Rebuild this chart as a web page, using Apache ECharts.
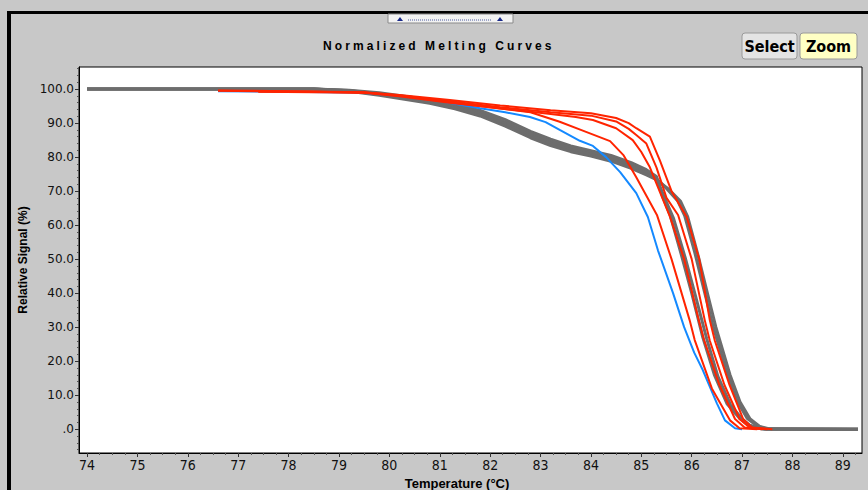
<!DOCTYPE html>
<html><head><meta charset="utf-8">
<script src="https://cdn.jsdelivr.net/npm/echarts@6/dist/echarts.min.js"></script>
<style>html,body{margin:0;padding:0;background:#c8c8c8;overflow:hidden}#chart{width:868px;height:490px}</style>
</head><body><div id="chart"></div><script>
const titleText = 'Normalized Melting Curves';
const xName = 'Temperature (°C)';
const yName = 'Relative Signal (%)';
const xTicks = [74,75,76,77,78,79,80,81,82,83,84,85,86,87,88,89];
const xMinorTicks = [74.25,74.5,74.75,75.25,75.5,75.75,76.25,76.5,76.75,77.25,77.5,77.75,78.25,78.5,78.75,79.25,79.5,79.75,80.25,80.5,80.75,81.25,81.5,81.75,82.25,82.5,82.75,83.25,83.5,83.75,84.25,84.5,84.75,85.25,85.5,85.75,86.25,86.5,86.75,87.25,87.5,87.75,88.25,88.5,88.75,89.25];
const yTicks = [0,10,20,30,40,50,60,70,80,90,100];
const yMinorTicks = [-6,-4,-2,2,4,6,8,12,14,16,18,22,24,26,28,32,34,36,38,42,44,46,48,52,54,56,58,62,64,66,68,72,74,76,78,82,84,86,88,92,94,96,98,102,104,106];

const gray1 = [[74,100],[78.5,100],[79.2,99.7],[79.8,98.9],[80.3,97.9],[80.8,96.9],[81.3,95.5],[81.8,93.7],[82.3,91],[82.8,87.6],[83.2,85.3],[83.6,83.3],[84,81.9],[84.4,80.5],[84.8,78.4],[85.1,76.3],[85.3,74.3],[85.42,68.5],[85.57,63],[85.8,51],[86.0,40],[86.22,27],[86.45,16],[86.7,7.5],[86.95,3.2],[87.1,1.4],[87.3,0.3],[87.45,0],[89.3,0]];
const gray2 = [[74,100],[78.5,100],[79.2,99.6],[79.8,98.6],[80.3,97.6],[80.8,96.5],[81.3,95],[81.8,93.1],[82.3,90.3],[82.8,86.9],[83.2,84.6],[83.6,82.7],[84,81.3],[84.4,79.9],[84.8,77.8],[85.1,75.7],[85.3,73.9],[85.48,67.4],[85.64,62],[85.87,50.5],[86.07,39.5],[86.3,26.5],[86.52,15.5],[86.77,7.2],[87.0,3],[87.15,1.2],[87.35,0.2],[87.5,0],[89.3,0]];
const gray3 = [[74,100],[78.5,100],[79.2,99.5],[79.8,98.4],[80.3,97.3],[80.8,96.2],[81.3,94.6],[81.8,92.6],[82.3,89.7],[82.8,86.3],[83.2,84],[83.6,82.1],[84,80.8],[84.4,79.3],[84.8,77.2],[85.1,75.2],[85.3,73.6],[85.5,70.8],[85.72,67.2],[85.86,62.8],[86.06,52],[86.26,40],[86.42,30.5],[86.51,26],[86.7,16.5],[86.9,8.3],[87.1,3.2],[87.3,0.9],[87.5,0.1],[89.3,0]];
const gray4 = [[74,100],[78.5,100],[79.2,99.4],[79.8,98.2],[80.3,97],[80.8,95.8],[81.3,94.2],[81.8,92.1],[82.3,89.1],[82.8,85.7],[83.2,83.4],[83.6,81.6],[84,80.3],[84.4,78.8],[84.8,76.7],[85.1,74.8],[85.3,73.4],[85.55,70.5],[85.78,67],[85.92,62.5],[86.12,51.5],[86.32,39.5],[86.48,30],[86.57,25.5],[86.76,16],[86.96,8],[87.16,3],[87.35,0.8],[87.55,0.1],[89.3,0]];

const blue1 = [[76.6,99.4],[78,99.2],[79.5,98.9],[80.2,98],[81,96.5],[81.8,94.4],[82.3,93.2],[82.79,91.8],[83.1,90.3],[83.38,88],[83.78,84.8],[84.04,83.3],[84.3,80],[84.58,75.6],[84.9,69.4],[85.13,62.4],[85.33,52.6],[85.63,40],[85.85,30],[86.05,22.5],[86.22,17.4],[86.5,7.6],[86.66,2.6],[86.86,0.3],[87.0,0]];

const red1 = [[76.6,99.5],[78,99.3],[79.5,99],[80.2,97.9],[81.2,96],[82.2,94.3],[82.8,93.2],[83.38,90.4],[83.8,88],[84.38,84.7],[84.65,80.5],[84.9,74.1],[85.31,63],[85.6,50],[85.96,32],[86.06,26.2],[86.4,12],[86.76,2.6],[86.95,0.3],[87.3,0]];
const red2 = [[77.4,99.2],[78.5,99.1],[79.5,98.9],[80.2,98],[81.2,96.1],[82.2,94.3],[83.2,92.7],[83.7,91.8],[84.04,90.9],[84.5,88.5],[84.83,85],[85.0,81.5],[85.17,77],[85.57,62.4],[85.85,50],[86.14,32],[86.25,26],[86.55,13],[86.86,3],[87.05,0.5],[87.4,0]];
const red3 = [[76.6,99.6],[78,99.4],[79.5,99.1],[80.2,98.1],[81.2,96.4],[82.2,94.7],[83.2,93.2],[84,92.2],[84.5,90.5],[84.75,88.3],[84.9,86.5],[85.1,84],[85.3,77],[85.5,68],[85.73,63],[86.0,50],[86.26,32],[86.36,26],[86.65,13],[86.95,3],[87.15,0.5],[87.5,0]];
const red4 = [[77.4,99.3],[78.5,99.2],[79.5,99],[80.2,98.3],[81.2,96.8],[82.2,95.2],[83.2,93.8],[84,92.9],[84.5,91.5],[84.75,90],[84.9,88.5],[85.17,86],[85.37,79],[85.6,70],[85.9,62.4],[86.15,50],[86.36,32],[86.46,26],[86.75,13],[87.02,3],[87.2,0.5],[87.6,0]];

const GRAY = '#6d6d6d', RED = '#ff2400', BLUE = '#1489ff';
const narrow = "'Liberation Sans Narrow','Arial Narrow','DejaVu Sans Condensed','Roboto Condensed','Liberation Sans',sans-serif";
const sans = "'Liberation Sans',Arial,sans-serif";
const wide = "'DejaVu Sans',Verdana,sans-serif";

function line(data, color, width) {
  return { type: 'line', data: data, showSymbol: false, symbol: 'none', silent: true,
    lineStyle: { color: color, width: width }, itemStyle: { color: color }, z: 2 };
}

const chart = echarts.init(document.getElementById('chart'), null, { renderer: 'svg' });
const X_MIN = 73.84, X_MAX = 89.38, Y_MIN = -7, Y_MAX = 106.5;
chart.setOption({
  animation: false,
  backgroundColor: '#c8c8c8',
  title: { text: titleText, left: 318, top: 35,
    textStyle: { fontFamily: sans, fontSize: 12, fontWeight: 'bold', color: '#000' } },
  grid: { left: 79, top: 67, right: 6, bottom: 37, containLabel: false, outerBoundsMode: 'none',
    show: true, backgroundColor: '#ffffff', borderColor: '#000', borderWidth: 1 },
  xAxis: [
    { type: 'value', min: X_MIN, max: X_MAX, position: 'bottom',
      name: xName, nameLocation: 'middle', nameGap: 21,
      nameTextStyle: { fontFamily: sans, fontSize: 13, fontWeight: 'bold', color: '#000', padding: [0, 27, 0, 0] },
      axisLine: { show: true, onZero: false, lineStyle: { color: '#000', width: 1 } },
      axisTick: { show: true, customValues: xTicks, length: 4, lineStyle: { color: '#333' } },
      axisLabel: { customValues: xTicks, margin: 5, fontFamily: narrow, fontSize: 14, color: '#111', formatter: v => String(v) },
      splitLine: { show: false } },
    { type: 'value', min: X_MIN, max: X_MAX, position: 'bottom', gridIndex: 0,
      axisLine: { show: false, onZero: false }, axisLabel: { show: false }, splitLine: { show: false },
      axisTick: { show: true, customValues: xMinorTicks, length: 2, lineStyle: { color: '#555' } } }
  ],
  yAxis: [
    { type: 'value', min: Y_MIN, max: Y_MAX, position: 'left',
      name: yName, nameLocation: 'middle', nameGap: 46, nameRotate: 90,
      nameTextStyle: { fontFamily: sans, fontSize: 12, fontWeight: 'bold', color: '#000' },
      axisLine: { show: true, onZero: false, lineStyle: { color: '#000', width: 1 } },
      axisTick: { show: true, customValues: yTicks, length: 4, lineStyle: { color: '#333' } },
      axisLabel: { customValues: yTicks, margin: 5, fontFamily: wide, fontSize: 12, color: '#111',
        formatter: v => (v === 0 ? '.0' : v.toFixed(1)) },
      splitLine: { show: false } },
    { type: 'value', min: Y_MIN, max: Y_MAX, position: 'left', gridIndex: 0,
      axisLine: { show: false, onZero: false }, axisLabel: { show: false }, splitLine: { show: false },
      axisTick: { show: true, customValues: yMinorTicks, length: 2, lineStyle: { color: '#555' } } }
  ],
  series: [
    line(gray1, GRAY, 3), line(gray2, GRAY, 3), line(gray3, GRAY, 3), line(gray4, GRAY, 3),
    line(blue1, BLUE, 2),
    line(red1, RED, 2), line(red2, RED, 2), line(red3, RED, 2), line(red4, RED, 2)
  ],
  graphic: [
    { type: 'rect', shape: { x: 7, y: 11, width: 4, height: 479 }, style: { fill: '#000' }, silent: true },
    { type: 'rect', shape: { x: 7, y: 11, width: 861, height: 3 }, style: { fill: '#000' }, silent: true },
    { type: 'group', silent: true, children: [
      { type: 'rect', shape: { x: 388, y: 14, width: 125, height: 9 }, style: { fill: '#f2f2f2', stroke: '#8a8a8a', lineWidth: 1 } },
      { type: 'polygon', shape: { points: [[397, 21], [400, 17], [403, 21]] }, style: { fill: '#1a2a8a' } },
      { type: 'polygon', shape: { points: [[497, 21], [500, 17], [503, 21]] }, style: { fill: '#1a2a8a' } },
      { type: 'line', shape: { x1: 408, y1: 20, x2: 492, y2: 20 }, style: { stroke: '#4a5aa0', lineWidth: 1, lineDash: [1, 1] } }
    ] },
    { type: 'group', silent: true, children: [
      { type: 'rect', shape: { x: 742, y: 33, width: 55, height: 26, r: 3 }, style: { fill: '#e4e4e4', stroke: '#9a9a9a', lineWidth: 1 } },
      { type: 'text', style: { x: 769.5, y: 46, text: 'Select', align: 'center', verticalAlign: 'middle', font: "bold 16px " + narrow, fill: '#000' } },
      { type: 'rect', shape: { x: 800, y: 33, width: 57, height: 26, r: 3 }, style: { fill: '#ffffc4', stroke: '#9a9a9a', lineWidth: 1 } },
      { type: 'text', style: { x: 828.5, y: 46, text: 'Zoom', align: 'center', verticalAlign: 'middle', font: "bold 16px " + narrow, fill: '#000' } }
    ] }
  ]
});
function spaceTitle() {
  document.querySelectorAll('#chart svg text').forEach(t => {
    if (t.textContent === titleText) t.setAttribute('letter-spacing', '3.1');
  });
}
spaceTitle();
chart.on('finished', spaceTitle);
requestAnimationFrame(spaceTitle);
</script></body></html>
